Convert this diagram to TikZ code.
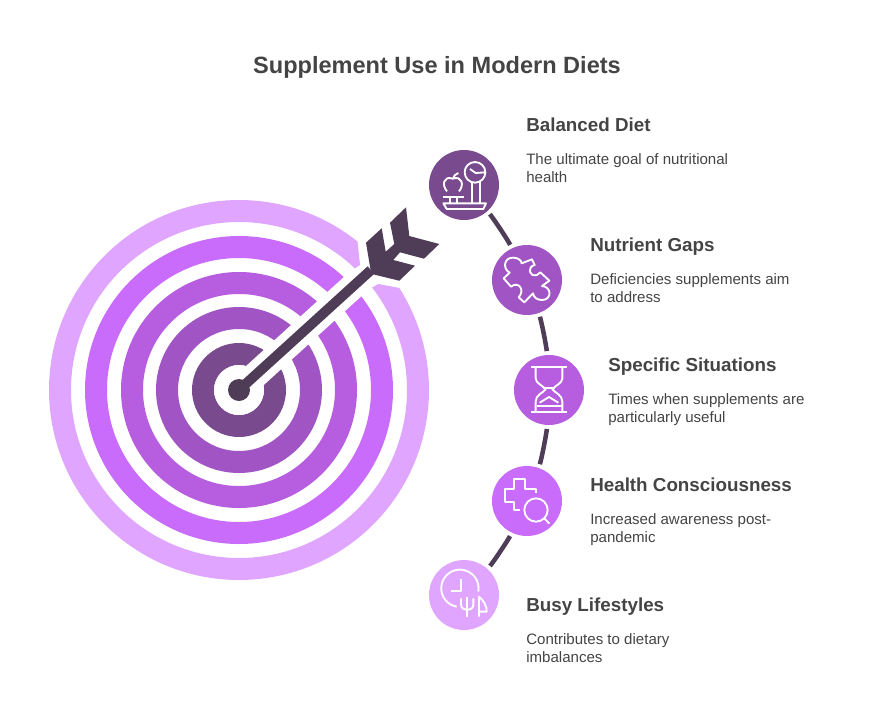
\documentclass[tikz,border=0pt]{standalone}
\usepackage{fontspec}
\setmainfont{Liberation Sans}
\usepackage{xcolor}
\usetikzlibrary{arrows.meta}
\definecolor{ringA}{HTML}{794A8E}
\definecolor{ringB}{HTML}{A155C4}
\definecolor{ringC}{HTML}{B65DE0}
\definecolor{ringD}{HTML}{C96BFB}
\definecolor{ringE}{HTML}{E0A6FF}
\definecolor{shaftcol}{HTML}{4F3D57}
\definecolor{textcol}{HTML}{444444}

\begin{document}
\begin{tikzpicture}[x=0.75pt,y=-0.75pt]
  \tikzset{bubble/.style = {shape=circle,minimum size=52.5pt,inner sep=0pt,outer sep=0pt}}
  \tikzset{heading/.style = {anchor=base west,inner sep=0pt,text=textcol,font=\fontsize{14.1}{18}\selectfont\bfseries}}
  \tikzset{body/.style = {anchor=west,inner sep=0pt,align=left,text=textcol,font=\fontsize{11.3}{13.5}\selectfont,execute at begin node=\strut,execute at end node=\strut}}
  \tikzset{link/.style = {draw=shaftcol,line width=3.4pt,shorten >=3pt,shorten <=3pt}}
  \tikzset{iconline/.style = {draw=white,line width=1.4pt,line join=round}}
  \tikzset{iconbox/.style = {x=0.25pt,y=-0.25pt}}

  \useasboundingbox (0,0) rectangle (875,714);

  \node[anchor=center,inner sep=0pt,text=textcol,font=\fontsize{17.66}{22}\selectfont\bfseries] (Title) at (437,67) {Supplement Use in Modern Diets};

  \coordinate (C) at (239,390);
  \coordinate (Cut) at (361,279);
  \coordinate (Tail) at (371,270);

  % rings
  \fill[ringD,even odd rule] (C) circle (154) (C) circle (132);
  \fill[ringC,even odd rule] (C) circle (118) (C) circle (96);
  \fill[ringB,even odd rule] (C) circle (83) (C) circle (61);
  \fill[ringA,even odd rule] (C) circle (47) (C) circle (25);
  \draw[white,line width=19.5pt] (C) -- (Cut);
  \fill[white] (C) circle (25);
  \fill[ringE] ([shift={(C)}]-51.4:190) arc (-51.4:-392.5:190) -- (378.3,284) -- ([shift={(C)}]-37.6:168)
     arc (-397.6:-46.4:168) -- (360,265) -- cycle;

  % arrow
  \fill[shaftcol] (C) circle (11);
  \draw[shaftcol,line width=7.5pt] (C) -- (Tail);
  \fill[shaftcol] (370,266.7) -- (366,242.7) -- (381.7,228.3) -- (385.7,251.7) -- (394.3,244) -- (390,222.7)
     -- (406,207.3) -- (409.3,236) -- (439.3,244) -- (424,258.7) -- (400,252.3) -- (393.3,260)
     -- (415,265.7) -- (399.3,280.7) -- (371.7,274) -- cycle;

  \node[bubble,fill=ringA] (Bal) at (464,185) {};
  \node[bubble,fill=ringB] (Gap) at (527,280) {};
  \node[bubble,fill=ringC] (Sit) at (549,390) {};
  \node[bubble,fill=ringD] (Hea) at (527,501) {};
  \node[bubble,fill=ringE] (Bus) at (464,595) {};

  \foreach \from/\to in {Bal/Gap, Gap/Sit, Sit/Hea, Hea/Bus}
    \path[link] (\from) edge [bend left=8,looseness=0.5] (\to);

  \node[heading] (BalH) at (526,131) {Balanced Diet};
  \node[body] (BalT) at (526,171) {The ultimate goal of nutritional\\health};
  \node[heading] (GapH) at (590,251) {Nutrient Gaps};
  \node[body] (GapT) at (590,291) {Deficiencies supplements aim\\to address};
  \node[heading] (SitH) at (608,371) {Specific Situations};
  \node[body] (SitT) at (608,411) {Times when supplements are\\particularly useful};
  \node[heading] (HeaH) at (590,491) {Health Consciousness};
  \node[body] (HeaT) at (590,531) {Increased awareness post-\\pandemic};
  \node[heading] (BusH) at (526,611) {Busy Lifestyles};
  \node[body] (BusT) at (526,651) {Contributes to dietary\\imbalances};

  % scale and apple
  \begin{scope}[shift={(425,148)},iconbox,iconline]
    \draw (150,73) circle (31);
    \draw (135,63) -- (152,75) -- (180,73);
    \draw (140,103) -- (140,166) (165,103) -- (165,166);
    \draw (55,166) -- (183,166) -- (175,183) -- (65,183) -- cycle;
    \draw (53,148) -- (118,148) (75,148) -- (75,166) (97,148) -- (97,166);
    \draw (66,130) .. controls (50,112) and (55,82) .. (83,92) .. controls (112,82) and (118,112) .. (102,130);
    \draw (84,92) .. controls (85,84) and (92,78) .. (100,75);
  \end{scope}

  % puzzle piece
  \begin{scope}[shift={(487,240)},iconbox,iconline]
    \draw (50,115) -- (68,98) .. controls (45,85) and (52,52) .. (78,53) .. controls (92,53) and (103,60) .. (104,70)
      -- (135,58) -- (143,75) .. controls (120,80) and (125,112) .. (150,105) -- (160,97) -- (187,122)
      -- (165,138) .. controls (195,140) and (195,180) .. (165,180) .. controls (150,180) and (140,172) .. (138,160)
      -- (112,187) -- (95,172) .. controls (115,150) and (95,122) .. (72,140) -- cycle;
  \end{scope}

  % hourglass
  \begin{scope}[shift={(509,350)},iconbox,iconline]
    \draw (67,50) -- (175,50) (67,187) -- (175,187);
    \draw (80,50) -- (80,85) .. controls (80,100) and (100,105) .. (110,118) .. controls (100,130) and (80,135) .. (80,155) -- (80,187);
    \draw (160,50) -- (160,85) .. controls (160,100) and (140,105) .. (130,118) .. controls (140,130) and (160,135) .. (160,155) -- (160,187);
    \draw (102,115) -- (138,115);
    \draw (83,168) -- (158,168);
    \draw (92,158) -- (120,141) -- (148,158);
  \end{scope}

  % cross and lens
  \begin{scope}[shift={(487,461)},iconbox,iconline]
    \draw (100,148) -- (80,148) -- (80,122) -- (53,122) -- (53,85) -- (80,85) -- (80,53) -- (115,53) -- (115,85) -- (148,85) -- (148,97);
    \draw (147,147) circle (35);
    \draw (172,172) -- (187,188);
  \end{scope}

  % clock and fork
  \begin{scope}[shift={(425,555)},iconbox,iconline]
    \draw (95,155) arc (100:370:56);
    \draw (107,72) -- (107,108) -- (77,108);
    \draw (127,125) -- (127,185);
    \draw (108,130) -- (108,148) .. controls (108,160) and (118,165) .. (127,165) .. controls (136,165) and (145,160) .. (145,148) -- (145,130);
    \draw (162,185) -- (162,125) .. controls (175,135) and (187,155) .. (185,170) -- (162,170);
  \end{scope}
\end{tikzpicture}
\end{document}
